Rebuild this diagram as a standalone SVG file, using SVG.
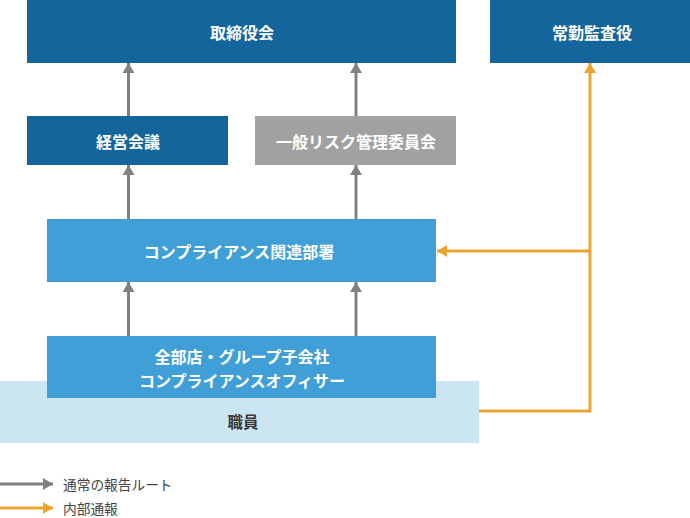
<svg xmlns="http://www.w3.org/2000/svg" width="690" height="518" viewBox="0 0 690 518">
<defs>
<style>
.dark{fill:#13659b}
.mid{fill:#3f9fd6}
.gray{fill:#a1a1a1}
.light{fill:#cce5f3}
.t{font-family:"Noto Sans CJK JP","Noto Sans",sans-serif;font-weight:bold;font-size:16px;fill:#ffffff;text-anchor:middle;dominant-baseline:central}
.t2{font-family:"Noto Sans CJK JP","Noto Sans",sans-serif;font-weight:bold;font-size:15.5px;fill:#3a3a3a;text-anchor:middle;dominant-baseline:central}
.lg{font-family:"Noto Sans CJK JP","Noto Sans",sans-serif;font-size:13.7px;fill:#444444;dominant-baseline:central}
.g{stroke:#808080;stroke-width:3;fill:none}
.o{stroke:#e9a532;stroke-width:3;fill:none}
</style>
<marker id="ag" viewBox="0 0 10 12" refX="10" refY="6" markerWidth="10" markerHeight="12" markerUnits="userSpaceOnUse" orient="auto"><path d="M0,0 L10,6 L0,12 z" fill="#808080"/></marker>
<marker id="ao" viewBox="0 0 10 12" refX="10" refY="6" markerWidth="10" markerHeight="12" markerUnits="userSpaceOnUse" orient="auto"><path d="M0,0 L10,6 L0,12 z" fill="#e9a532"/></marker>
</defs>
<g id="staff"><rect class="light" x="0" y="381" width="479" height="62"/><text class="t2" x="243" y="421">職員</text></g>
<g id="board"><rect class="dark" x="27" y="0" width="429" height="63"/><text class="t" x="242" y="32">取締役会</text></g>
<g id="auditor"><rect class="dark" x="490" y="0" width="200" height="63"/><text class="t" x="592" y="32">常勤監査役</text></g>
<g id="mgmt"><rect class="dark" x="27" y="116" width="201" height="49"/><text class="t" x="128" y="141">経営会議</text></g>
<g id="risk"><rect class="gray" x="255" y="116" width="201" height="49"/><text class="t" x="356" y="141">一般リスク管理委員会</text></g>
<g id="compliance"><rect class="mid" x="47" y="219" width="389" height="63"/><text class="t" x="239" y="251">コンプライアンス関連部署</text></g>
<g id="officer"><rect class="mid" x="47" y="336" width="389" height="62"/><text class="t" x="242" y="356">全部店・グループ子会社</text><text class="t" x="242" y="380">コンプライアンスオフィサー</text></g>
<g id="connectors">
<line class="g" x1="128.5" y1="116" x2="128.5" y2="63" marker-end="url(#ag)"/>
<line class="g" x1="356" y1="116" x2="356" y2="63" marker-end="url(#ag)"/>
<line class="g" x1="128.5" y1="219" x2="128.5" y2="165" marker-end="url(#ag)"/>
<line class="g" x1="356" y1="219" x2="356" y2="165" marker-end="url(#ag)"/>
<line class="g" x1="128.5" y1="336" x2="128.5" y2="282" marker-end="url(#ag)"/>
<line class="g" x1="356" y1="336" x2="356" y2="282" marker-end="url(#ag)"/>
<path class="o" d="M479,411 H590 V63" marker-end="url(#ao)"/>
<path class="o" d="M590,251 H437" marker-end="url(#ao)"/>
</g>
<g id="legend">
<line class="g" x1="0" y1="484" x2="53" y2="484" marker-end="url(#ag)"/>
<text class="lg" x="63" y="484">通常の報告ルート</text>
<line class="o" x1="0" y1="508" x2="53" y2="508" marker-end="url(#ao)"/>
<text class="lg" x="63" y="508">内部通報</text>
</g>
</svg>
